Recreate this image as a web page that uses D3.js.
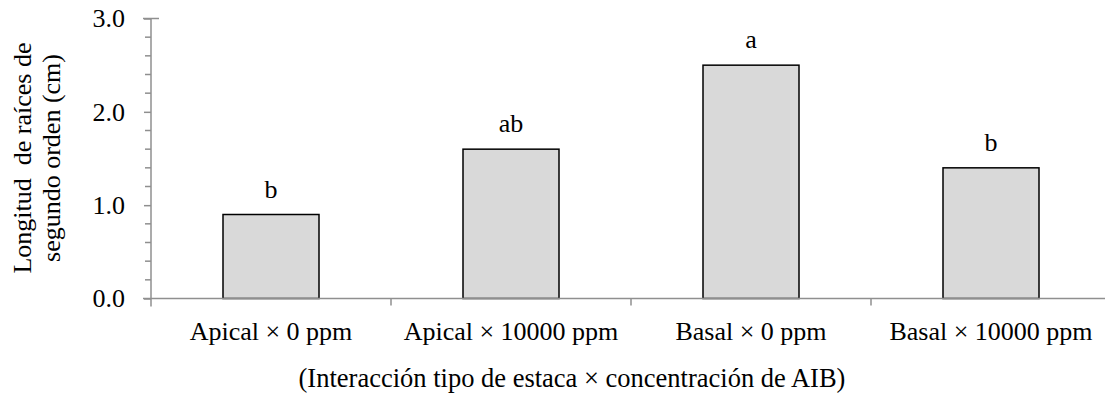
<!DOCTYPE html>
<html>
<head>
<meta charset="utf-8">
<script src="https://cdn.jsdelivr.net/npm/d3@7"></script>
<style>
  html, body { margin: 0; padding: 0; background: #fff; }
  svg { display: block; }
  text { font-family: "Liberation Serif", "Times New Roman", serif; fill: #000; }
</style>
</head>
<body>
<svg id="chart" width="1105" height="396"></svg>
<script>
const categories = ["Apical × 0 ppm", "Apical × 10000 ppm", "Basal × 0 ppm", "Basal × 10000 ppm"];
const values = [0.9, 1.6, 2.5, 1.4];
const letters = ["b", "ab", "a", "b"];
const yTicks = [0, 1, 2, 3];
const yMinorTicks = [0.2, 0.4, 0.6, 0.8, 1.2, 1.4, 1.6, 1.8, 2.2, 2.4, 2.6, 2.8];
const yTitleLines = ["Longitud  de raíces de", "segundo orden (cm)"];
const xTitle = "(Interacción tipo de estaca × concentración de AIB)";

const svg = d3.select("#chart");
const mLeft = 151, mRight = 1111, mTop = 18.5, mBottom = 298.5;
const axisColor = "#8f8f8f";
const fs = 26;

const x = d3.scaleBand().domain(categories).range([mLeft, mRight]).paddingInner(0).paddingOuter(0);
const y = d3.scaleLinear().domain([0, 3]).range([mBottom, mTop]);
const barW = x.bandwidth() * 0.4;

// bars
svg.append("g").selectAll("rect").data(values).join("rect")
  .attr("x", (d, i) => x(categories[i]) + (x.bandwidth() - barW) / 2)
  .attr("y", d => y(d))
  .attr("width", barW)
  .attr("height", d => y(0) - y(d))
  .attr("fill", "#d9d9d9")
  .attr("stroke", "#000")
  .attr("stroke-width", 1.5);

// letters
svg.append("g").selectAll("text").data(values).join("text")
  .attr("x", (d, i) => x(categories[i]) + x.bandwidth() / 2)
  .attr("y", d => y(d) - 17)
  .attr("text-anchor", "middle")
  .attr("font-size", fs)
  .text((d, i) => letters[i]);

// y axis
const yAxis = svg.append("g").attr("transform", `translate(${mLeft},0)`)
  .call(d3.axisLeft(y).tickValues(yTicks).tickFormat(d3.format(".1f")).tickSize(7).tickPadding(19));
yAxis.select(".domain").attr("stroke", axisColor).attr("stroke-width", 1.5)
  .attr("d", `M0,${mTop}V${mBottom + 8}`);
yAxis.selectAll(".tick line").attr("stroke", axisColor).attr("stroke-width", 1.5);
yAxis.selectAll(".tick text").attr("font-size", fs).attr("font-family", "Liberation Serif").attr("fill", "#000");
yAxis.append("g").selectAll("line").data(yMinorTicks).join("line")
  .attr("x1", -6).attr("x2", 0)
  .attr("y1", d => y(d)).attr("y2", d => y(d))
  .attr("stroke", axisColor).attr("stroke-width", 1.5);
yAxis.append("line").attr("x1", -8).attr("x2", 8).attr("y1", y(3)).attr("y2", y(3))
  .attr("stroke", axisColor).attr("stroke-width", 1.5);

// x axis
const xAxis = svg.append("g").attr("transform", `translate(0,${mBottom})`)
  .call(d3.axisBottom(x).tickSize(0).tickPadding(0));
xAxis.select(".domain").attr("stroke", axisColor).attr("stroke-width", 1.5)
  .attr("d", `M${mLeft - 8},0H${mRight}`);
xAxis.selectAll(".tick text").attr("font-size", fs).attr("font-family", "Liberation Serif")
  .attr("fill", "#000").attr("dy", null).attr("y", 41);
const bounds = categories.slice(1).map(c => x(c));
xAxis.append("g").selectAll("line").data(bounds).join("line")
  .attr("x1", d => d).attr("x2", d => d).attr("y1", 0).attr("y2", 7)
  .attr("stroke", axisColor).attr("stroke-width", 1.5);

// y title
const yt = svg.append("text")
  .attr("transform", "translate(31,158) rotate(-90)")
  .attr("text-anchor", "middle")
  .attr("font-size", fs);
yt.selectAll("tspan").data(yTitleLines).join("tspan")
  .attr("x", 0).attr("dy", (d, i) => i === 0 ? 0 : 29)
  .style("white-space", "pre")
  .text(d => d);

// x title
svg.append("text")
  .attr("x", 572).attr("y", 387)
  .attr("text-anchor", "middle")
  .attr("font-size", 26.5)
  .text(xTitle);
</script>
</body>
</html>
